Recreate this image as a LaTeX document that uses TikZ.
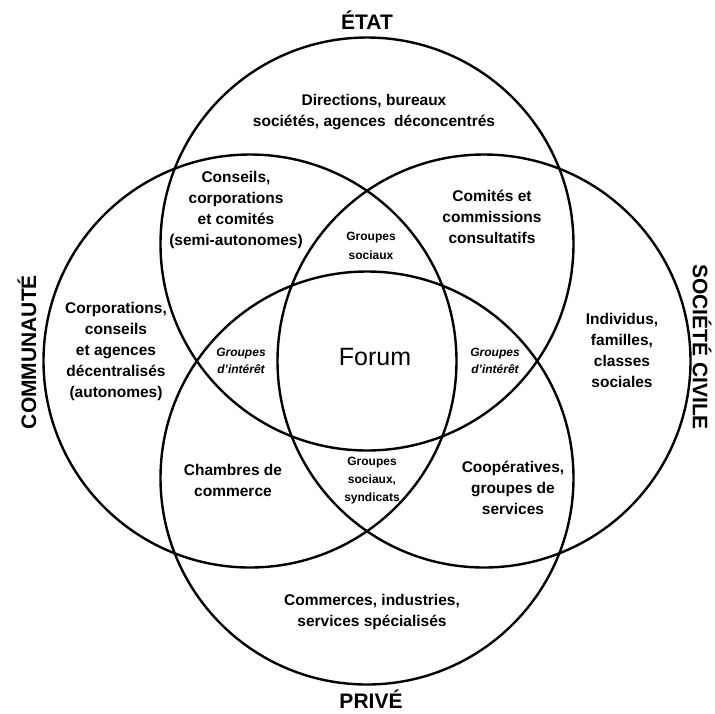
\documentclass[tikz,border=0pt]{standalone}
\usepackage{fontspec}
\setmainfont{Liberation Sans}
\usetikzlibrary{positioning}
\tikzset{node distance=117pt, auto}
\tikzset{ring/.style={draw, circle, minimum size=413pt, inner sep=0pt, line width=2.4pt},
  zone/.style={align=center, font=\bfseries\fontsize{15.5}{21}\selectfont},
  grp/.style={align=center, font=\bfseries\fontsize{12}{19}\selectfont},
  grpit/.style={align=center, font=\bfseries\itshape\fontsize{12}{17.5}\selectfont},
  side/.style={inner sep=1pt, font=\bfseries\fontsize{21}{24}\selectfont}}

\begin{document}
\begin{tikzpicture}[x=1pt, y=-1pt]
  \useasboundingbox (0,0) rectangle (715,713);

              \coordinate (O) at (367,361);
              \node (Etat) [ring, above of=O] {};
              \node (Prive) [ring, below of=O] {};
              \node (Comm) [ring, left of=O] {};
              \node (Soc) [ring, right of=O] {};

              \node (tEtat) [side] at (367,20) {ÉTAT};
              \node (tPrive) [side] at (371,699) {PRIVÉ};
              \node (tComm) [side, rotate=90] at (27,352) {COMMUNAUTÉ};
              \node (tSoc) [side, rotate=-90] at (702,347) {SOCIÉTÉ CIVILE};

              \node (F) [font=\fontsize{25}{30}\selectfont] at (375,357) {Forum};

              \node (Dir) [zone] at (374,112) {Directions, bureaux\\sociétés, agences\ \ déconcentrés};
              \node (Cons) [zone] at (236,210) {Conseils,\\corporations\\et comités\\(semi-autonomes)};
              \node (Comt) [zone] at (492,217) {Comités et\\commissions\\consultatifs};
              \node (Corp) [zone] at (116,351) {Corporations,\\conseils\\et agences\\décentralisés\\(autonomes)};
              \node (Indv) [zone] at (622,350) {Individus,\\familles,\\classes\\sociales};
              \node (Cham) [zone] at (233,480) {Chambres de\\commerce};
              \node (Coop) [zone] at (513,488) {Coopératives,\\groupes de\\services};
              \node (Comr) [zone] at (372,612) {Commerces, industries,\\services spécialisés};

              \node (GsH) [grp] at (371,246) {Groupes\\sociaux};
              \node (GsB) [grp, font=\bfseries\fontsize{12}{18}\selectfont] at (372,481) {Groupes\\sociaux,\\syndicats};
              \node (GiL) [grpit] at (241,361) {Groupes\\d'intérêt};
              \node (GiR) [grpit] at (495,361) {Groupes\\d'intérêt};
            \end{tikzpicture}
\end{document}
